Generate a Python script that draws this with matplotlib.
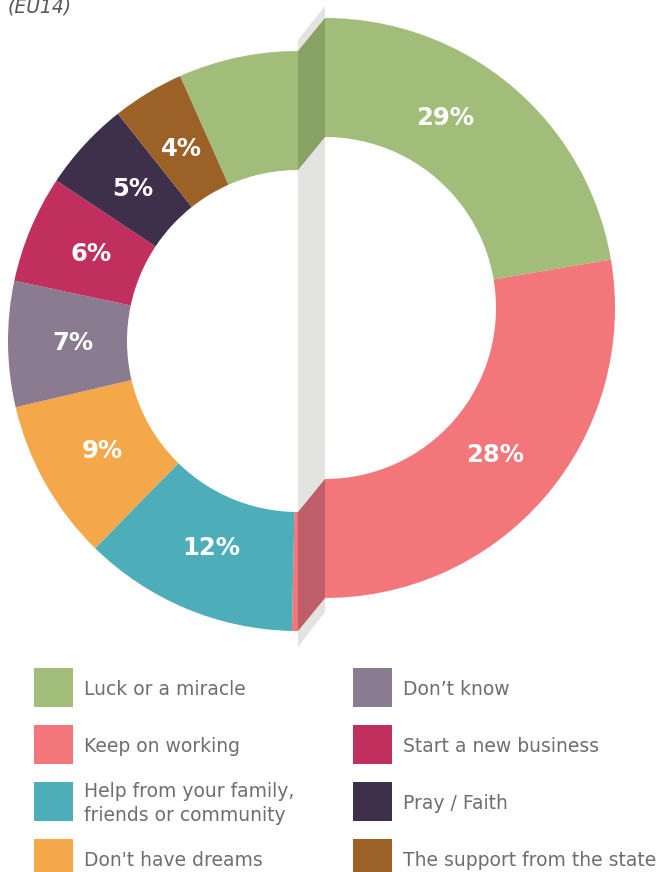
import numpy as np
import matplotlib.pyplot as plt
from matplotlib.patches import Rectangle, Polygon

# data
labels = ["Luck or a miracle", "Keep on working",
          "Help from your family,\nfriends or community", "Don't have dreams",
          "Don\u2019t know", "Start a new business", "Pray / Faith",
          "The support from the state"]
values = [29, 28, 12, 9, 7, 6, 5, 4]
colors = ["#a2bd79", "#f3767a", "#4daeba", "#f5a84a",
          "#8a7b91", "#c02f5d", "#3e2f4a", "#9b6126"]
title = "(EU14)"

W, H = 658, 872
fig = plt.figure(figsize=(W / 100, H / 100), dpi=100)
ax = fig.add_axes([0, 0, 1, 1])

# geometry (pixel units, y up)
r_out, r_in = 290, 171
cl = (298, H - 341)   # left half centre
cr = (325, H - 308)   # right half centre (shifted piece)
start = 114

# grey band between the two halves
ax.add_patch(Polygon([(cl[0], H - 40), (cr[0], H - 6), (cr[0], H - 612), (cl[0], H - 647)],
                     closed=True, fc="#e3e3e2", ec="none", zorder=1))

wl, _ = ax.pie(values, colors=colors, startangle=start, counterclock=False,
               radius=r_out, center=cl, wedgeprops=dict(width=r_out - r_in, linewidth=0))
wr, _ = ax.pie(values, colors=colors, startangle=start, counterclock=False,
               radius=r_out, center=cr, wedgeprops=dict(width=r_out - r_in, linewidth=0))

# clip each copy to its own side of the cut (pie turns clipping off)
clip_l = Rectangle((-10, -10), cl[0] + 10, H + 20, transform=ax.transData)
clip_r = Rectangle((cr[0], -10), W - cr[0] + 10, H + 20, transform=ax.transData)
for w in wl:
    w.set_clip_on(True)
    w.set_clip_path(clip_l)
    w.set_zorder(2)
for w in wr:
    w.set_clip_on(True)
    w.set_clip_path(clip_r)
    w.set_zorder(2)

# cut faces
ax.add_patch(Polygon([(cl[0], cl[1] + r_out), (cr[0], cr[1] + r_out),
                      (cr[0], cr[1] + r_in), (cl[0], cl[1] + r_in)],
                     closed=True, fc="#88a263", ec="none", zorder=3))
ax.add_patch(Polygon([(cl[0], cl[1] - r_in), (cr[0], cr[1] - r_in),
                      (cr[0], cr[1] - r_out), (cl[0], cl[1] - r_out)],
                     closed=True, fc="#bd5e69", ec="none", zorder=3))

# percentage labels
for i, (w, v) in enumerate(zip(wr, values)):
    mid = np.deg2rad((w.theta1 + w.theta2) / 2)
    if i == 0:
        mid -= np.deg2rad(4)
    c = cr if np.cos(mid) > 0 else cl
    x = c[0] + 225 * np.cos(mid)
    y = c[1] + 225 * np.sin(mid)
    ax.text(x, y, f"{v}%", color="white", fontsize=17.5, fontweight="bold",
            ha="center", va="center", zorder=4)

# legend
for i, (lab, col) in enumerate(zip(labels, colors)):
    col_x = 34 if i < 4 else 353
    top = 668 + (i % 4) * 57
    ax.add_patch(Rectangle((col_x, H - top - 39), 39, 39, fc=col, ec="none"))
    lines = lab.split("\n")
    cy = top + 19.5
    for j, ln in enumerate(lines):
        base = cy + 7 + (j - (len(lines) - 1) / 2) * 24
        ax.text(col_x + 50, H - base, ln, fontsize=13.5, color="#6d6e71",
                ha="left", va="baseline")

ax.text(8, H - 13, title, fontsize=13.5, style="italic", color="#555555",
        ha="left", va="baseline")

ax.set_xlim(0, W)
ax.set_ylim(0, H)
ax.set_aspect("auto")
ax.axis("off")
fig.savefig("out.png", dpi=100)
